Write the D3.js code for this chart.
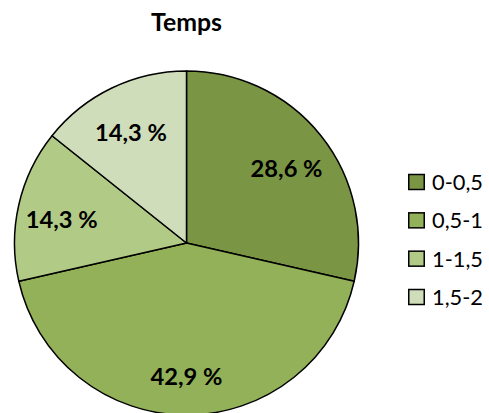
<!DOCTYPE html>
<html><head><meta charset="utf-8">
<script src="https://cdn.jsdelivr.net/npm/d3@7"></script>
<style>body{margin:0;background:#fff}svg{display:block}</style>
</head><body>
<svg id="c" width="489" height="413"></svg>
<script>
const title = "Temps";
const categories = ["0-0,5", "0,5-1", "1-1,5", "1,5-2"];
const values = [2, 3, 1, 1];
const labels = ["28,6 %", "42,9 %", "14,3 %", "14,3 %"];
const colors = ["#7A9645", "#93B158", "#B1CA86", "#CFDDBA"];

const svg = d3.select("#c");
const cx = 186.5, cy = 243, r = 172;
const FONT = "Lato";

// fit a font size so the text reaches a target width
function fit(sel, target) {
  const w = sel.node().getComputedTextLength();
  const fs = +sel.attr("font-size");
  return fs * target / w;
}

const t = svg.append("text").attr("x", 186.5).attr("y", 31).attr("text-anchor", "middle")
  .attr("font-family", FONT).attr("font-weight", "bold").attr("font-size", 20)
  .attr("fill", "#000").text(title);
t.attr("font-size", fit(t, 71));

const pie = d3.pie().sort(null).value(d => d)(values);
const arc = d3.arc().innerRadius(0).outerRadius(r);
const labelArc = d3.arc().innerRadius(128).outerRadius(128);
const g = svg.append("g").attr("transform", `translate(${cx},${cy})`);
g.selectAll("path").data(pie).join("path")
  .attr("d", arc).attr("fill", (d, i) => colors[i])
  .attr("stroke", "#000").attr("stroke-width", 1.5).attr("stroke-linejoin", "round");
const lt = g.selectAll("text").data(pie).join("text")
  .attr("transform", d => { const c = labelArc.centroid(d); return `translate(${c[0]},${c[1] + 5})`; })
  .attr("text-anchor", "middle").attr("dy", "0.36em")
  .attr("font-family", FONT).attr("font-weight", "bold").attr("font-size", 20)
  .attr("fill", "#000").text((d, i) => labels[i]);
const lfs = fit(d3.select(lt.nodes()[0]), 72);
lt.attr("font-size", lfs);

const ly = d3.scalePoint().domain(categories).range([182, 297]);
const lg = svg.append("g");
const items = lg.selectAll("g").data(categories).join("g")
  .attr("transform", d => `translate(408,${ly(d)})`);
items.append("rect").attr("x", 0.75).attr("y", -7.5).attr("width", 15.5).attr("height", 15)
  .attr("fill", (d, i) => colors[i]).attr("stroke", "#000").attr("stroke-width", 1.5);
const lx = items.append("text").attr("x", 24).attr("dy", "0.36em")
  .attr("font-family", FONT).attr("font-size", 20).attr("fill", "#000").text(d => d);
const gfs = fit(d3.select(lx.nodes()[2]), 51);
lx.attr("font-size", gfs);
</script>
</body></html>
